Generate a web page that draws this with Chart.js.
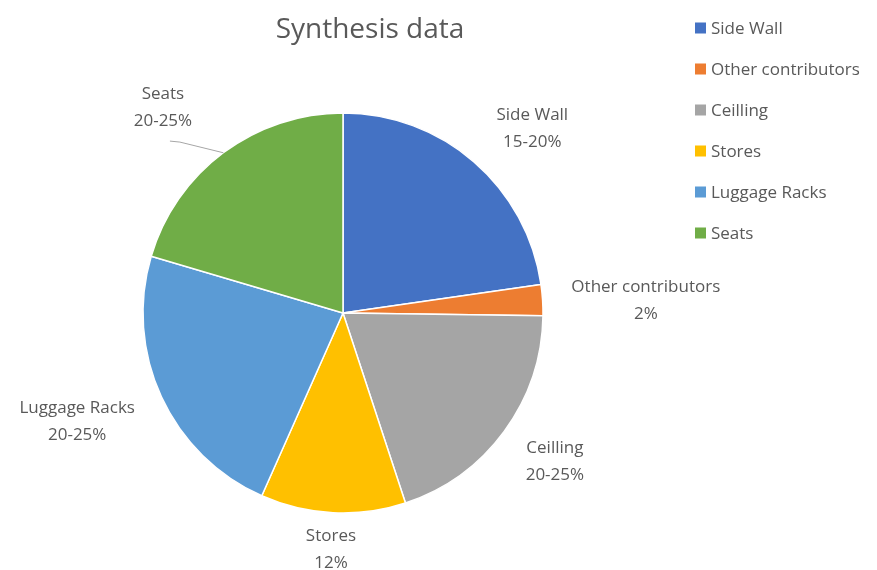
<!DOCTYPE html>
<html>
<head>
<meta charset="utf-8">
<script src="https://cdn.jsdelivr.net/npm/chart.js@4"></script>
<style>
  html, body { margin: 0; padding: 0; background: #ffffff; }
  #wrap { width: 877px; height: 570px; }
</style>
</head>
<body>
<div id="wrap"><canvas id="synthesisChart" width="877" height="570"></canvas></div>
<script>
// Synthesis data
const categories = ['Side Wall', 'Other contributors', 'Ceilling', 'Stores', 'Luggage Racks', 'Seats'];
const shares = [22.7, 2.5, 19.7, 11.7, 22.9, 20.4];
const shareLabels = ['15-20%', '2%', '20-25%', '12%', '20-25%', '20-25%'];
const colors = ['#4472C4', '#ED7D31', '#A5A5A5', '#FFC000', '#5B9BD5', '#70AD47'];

const textColor = '#595959';
const fontFamily = '"Open Sans", sans-serif';

// extra distance of each data label from the pie edge, small nudges, leader line for seats
const labelGap = [38, 29, 30, 14, 35, 50];
const labelNudgeX = [10, 0, 3, 0, 0, -13];
const labelNudgeY = [12, 3, -1, 0, 0, 12];
const labelLeader = [false, false, false, false, false, true];

const titleAndLabels = {
  id: 'titleAndLabels',
  afterDraw(chart) {
    const ctx = chart.ctx;
    ctx.save();

    // title
    ctx.fillStyle = textColor;
    ctx.font = '28px ' + fontFamily;
    ctx.textAlign = 'center';
    ctx.textBaseline = 'middle';
    ctx.fillText('Synthesis data', 370, 30);

    // legend
    ctx.font = '17px ' + fontFamily;
    ctx.textAlign = 'left';
    categories.forEach((name, i) => {
      const y = 28 + i * 41;
      ctx.fillStyle = colors[i];
      ctx.fillRect(695, y - 5.5, 11, 11);
      ctx.fillStyle = textColor;
      ctx.fillText(name, 711, y + 1);
    });

    // data labels
    ctx.textAlign = 'center';
    const meta = chart.getDatasetMeta(0);
    meta.data.forEach((arc, i) => {
      const p = arc.getProps(['x', 'y', 'startAngle', 'endAngle', 'outerRadius'], true);
      const mid = (p.startAngle + p.endAngle) / 2;
      const ux = Math.cos(mid), uy = Math.sin(mid);
      const hw = Math.max(ctx.measureText(categories[i]).width, ctx.measureText(shareLabels[i]).width) / 2;
      const hh = 22;
      const d = p.outerRadius + labelGap[i];
      const cx = p.x + d * ux + hw * ux + labelNudgeX[i];
      const cy = p.y + d * uy + hh * uy + labelNudgeY[i];
      ctx.fillStyle = textColor;
      ctx.fillText(categories[i], cx, cy - 13);
      ctx.fillText(shareLabels[i], cx, cy + 14);

      if (labelLeader[i]) {
        const ex = p.x + p.outerRadius * ux;
        const ey = p.y + p.outerRadius * uy;
        ctx.strokeStyle = '#A6A6A6';
        ctx.lineWidth = 1;
        ctx.beginPath();
        ctx.moveTo(ex, ey);
        ctx.lineTo(cx + 17, cy + 35);
        ctx.lineTo(cx + 7, cy + 34);
        ctx.stroke();
      }
    });
    ctx.restore();
  }
};

const ctxSynthesis = document.getElementById('synthesisChart').getContext('2d');
const synthesisChart = new Chart(ctxSynthesis, {
  type: 'pie',
  data: {
    labels: categories,
    datasets: [
      {
        data: shares,
        backgroundColor: colors,
        borderColor: '#ffffff',
        borderWidth: 1.5,
        radius: 200,
      },
    ],
  },
  options: {
    responsive: false,
    animation: false,
    layout: {
      padding: { top: 56, right: 191, bottom: 0, left: 0 },
    },
    plugins: {
      legend: { display: false },
      title: { display: false },
      tooltip: { enabled: false },
    },
  },
  plugins: [titleAndLabels],
});
</script>
</body>
</html>
